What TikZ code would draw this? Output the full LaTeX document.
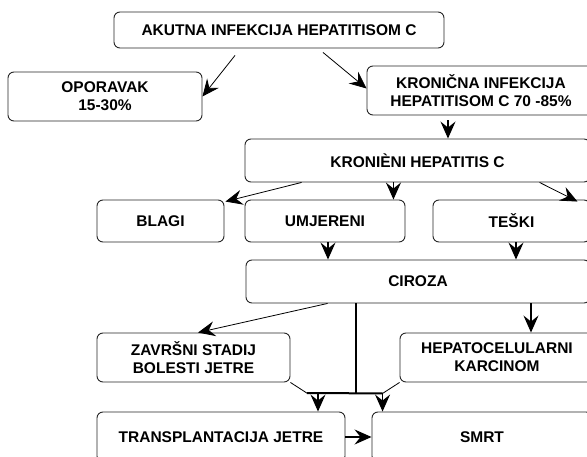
\documentclass[tikz,border=0pt]{standalone}
\usepackage{fontspec}
\setmainfont{Liberation Sans}
\usetikzlibrary{arrows.meta}

\begin{document}
\begin{tikzpicture}[x=1pt,y=-1pt,
  box/.style={draw=black!85, line width=0.9pt, rounded corners=6pt, align=center, inner sep=0pt, font=\fontsize{15.5}{18}\selectfont\bfseries},
  arr/.style={-{Stealth[length=17pt,width=15pt,inset=6pt]}, line width=0.8pt},
  varr/.style={arr, line width=1.4pt},
  bar/.style={line width=2pt}]
\fill[white] (0,0) rectangle (587,457);
\useasboundingbox (0,0) rectangle (587,457);
\clip (0,0) rectangle (587,457);

\node[box, minimum width=330pt, minimum height=36pt] (akutna) at (279,30) {AKUTNA INFEKCIJA HEPATITISOM C};
\node[box, minimum width=194pt, minimum height=49pt] (oporavak) at (105,96.5) {OPORAVAK\\15-30\%};
\node[box, minimum width=228pt, minimum height=49pt] (kronicna) at (481,90.5) {KRONIČNA INFEKCIJA\\HEPATITISOM C 70 -85\%};
	\node[box, minimum width=345pt, minimum height=43pt] (kronhep) at (417.5,160.5) {KRONIÈNI HEPATITIS C};
	\node[box, minimum width=127pt, minimum height=42pt] (blagi) at (160.5,221) {BLAGI};
	\node[box, minimum width=160pt, minimum height=42pt] (umjereni) at (325,221) {UMJERENI};
	\node[box, minimum width=157pt, minimum height=42pt] (teski) at (511.5,221) {TEŠKI};
		\node[box, minimum width=344pt, minimum height=43pt] (ciroza) at (418,281.5) {CIROZA};
		\node[box, minimum width=193pt, minimum height=49pt] (zavrsni) at (193.5,357.5) {ZAVRŠNI STADIJ\\BOLESTI JETRE};
		\node[box, minimum width=194pt, minimum height=49pt] (hepato) at (497,357.5) {HEPATOCELULARNI\\KARCINOM};
			\node[box, minimum width=248pt, minimum height=50pt] (trans) at (221,437) {TRANSPLANTACIJA JETRE};
			\node[box, minimum width=220pt, minimum height=50pt] (smrt) at (482,437) {SMRT};

\coordinate (u1) at ([xshift=-12pt]umjereni.north east);
\coordinate (u2) at ([xshift=3pt]umjereni.south);
\coordinate (t2) at ([xshift=4.5pt]teski.south);
\coordinate (c1) at ([xshift=34pt]hepato.north);
\coordinate (j1) at ([xshift=110pt]ciroza.south west);
\coordinate (j2) at (j1 |- 0,393);
\coordinate (jl) at ([xshift=17pt,yshift=-11pt]zavrsni.south east);
\coordinate (jr) at ([xshift=-17pt,yshift=-11pt]hepato.south west);
\coordinate (tr) at (318,393);

\draw[arr] ([xshift=-44pt,yshift=-7pt]akutna.south) -- (oporavak.east);
\draw[arr] ([xshift=44pt,yshift=-4pt]akutna.south) -- ([yshift=2pt]kronicna.west);
\draw[varr] ([xshift=-33pt,yshift=-5pt]kronicna.south) -- ([xshift=30.5pt]kronhep.north);
\draw[arr] ([xshift=57pt]kronhep.south west) -- ([xshift=1pt,yshift=-2pt]blagi.north east);
\draw[varr] (kronhep.south -| u1) -- (u1);
\draw[arr] ([xshift=295pt]kronhep.south west) -- ([xshift=-13pt,yshift=-2pt]teski.north east);
\draw[varr] (u2) -- (u2 |- ciroza.north);
\draw[varr] (t2) -- (t2 |- ciroza.north);
\draw[arr] ([xshift=82pt]ciroza.south west) -- ([xshift=4.5pt]zavrsni.north);
\draw[varr] (c1 |- ciroza.south) -- (c1);
\draw[bar] (j1) -- (j2);
\draw[bar] ([xshift=-11pt]tr) -- (jr);
\draw[line width=0.8pt] (zavrsni.south east) -- (jl);
\draw[line width=0.8pt] (hepato.south west) -- (jr);
\draw[varr] (tr) -- (tr |- trans.north);
\draw[varr] (jr) -- (jr |- smrt.north);
\draw[varr] (trans.east) -- (smrt.west);
\end{tikzpicture}
\end{document}
